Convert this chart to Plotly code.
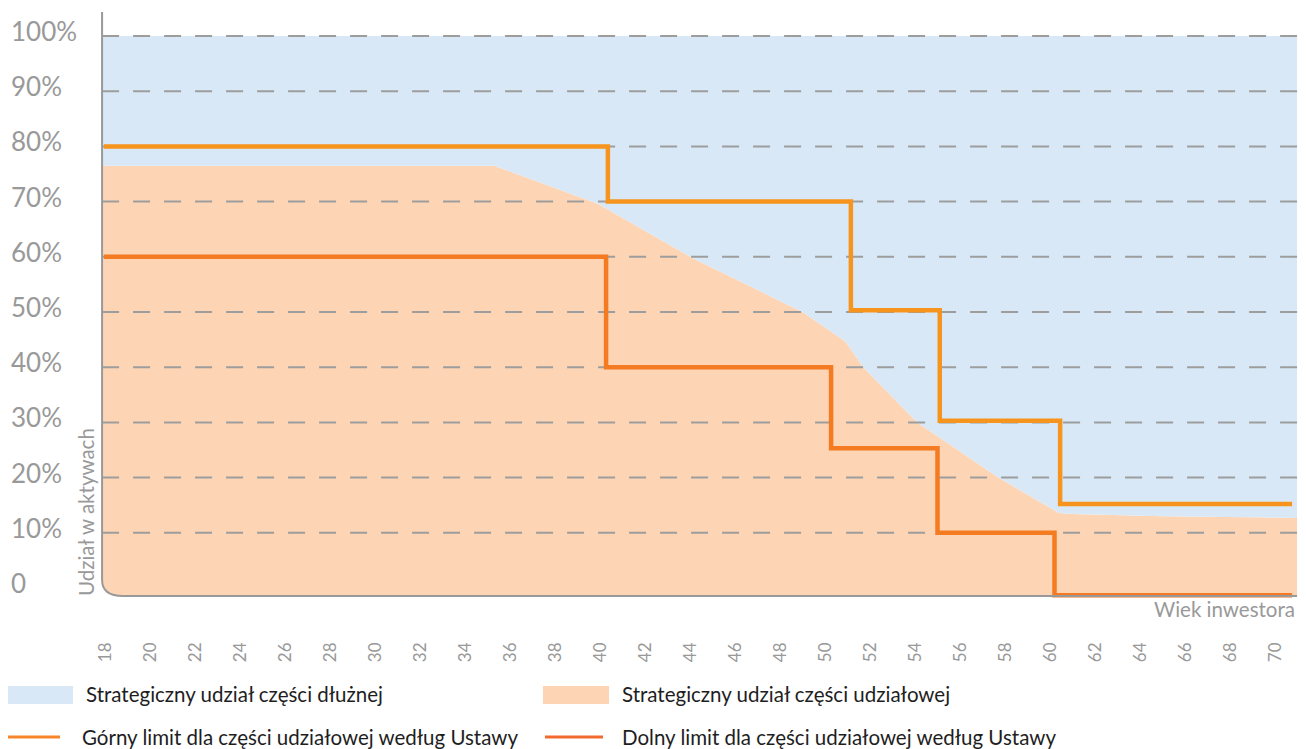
import plotly.graph_objects as go

# ---------------- data ----------------
CURVE_AGE = [17.87, 35.3, 39.9, 44.1, 49.0, 50.9, 51.7, 54.1, 57.7, 60.4, 61.0, 65.0, 70.98]
CURVE_VAL = [76.5, 76.5, 69.6, 59.8, 50.0, 44.7, 40.0, 30.0, 20.0, 13.6, 13.4, 13.0, 12.7]
DEBT_TOP = 100

UPPER_AGE = [17.95, 40.35, 51.15, 55.1, 60.45, 70.76]
UPPER_VAL = [80, 70, 50.3, 30.3, 15.2, 15.2]

LOWER_AGE = [17.95, 40.27, 50.27, 55.0, 60.2, 70.76]
LOWER_VAL = [60, 40, 25.3, 10, -1.3, -1.3]

X_TICKS = list(range(18, 71, 2))
Y_TICKS = [10, 20, 30, 40, 50, 60, 70, 80, 90, 100]
Y_TICK_LABELS = ["10%", "20%", "30%", "40%", "50%", "60%", "70%", "80%", "90%", "100%"]
Y_ZERO_LABEL = "0"

LEG_DEBT = "Strategiczny udział części dłużnej"
LEG_EQUITY = "Strategiczny udział części udziałowej"
LEG_UPPER = "Górny limit dla części udziałowej według Ustawy"
LEG_LOWER = "Dolny limit dla części udziałowej według Ustawy"
X_TITLE = "Wiek inwestora"
Y_TITLE = "Udział w aktywach"

# ---------------- style / layout ----------------
OFF = 8  # default page body margin
PAGE_W, PAGE_H = 1306, 749
W, H = PAGE_W - OFF, PAGE_H - OFF
# plot area in page pixels
P_LEFT, P_RIGHT, P_TOP, P_BOTTOM = 99, 1298, 10, 600
ML = P_LEFT - OFF
MR = W - (P_RIGHT - OFF)
MT = P_TOP - OFF
MB = H - (P_BOTTOM - OFF)
PW = P_RIGHT - P_LEFT
PH = P_BOTTOM - P_TOP

PX_PER_YEAR = 22.5
PX_PER_PCT = 5.52
ZERO_PX = 588  # page row of 0%
X0 = 18 - (105 - P_LEFT) / PX_PER_YEAR
X1 = 18 + (P_RIGHT - 105) / PX_PER_YEAR
Y1 = (ZERO_PX - P_TOP) / PX_PER_PCT
Y0 = (ZERO_PX - P_BOTTOM) / PX_PER_PCT
BASELINE = (ZERO_PX - 596) / PX_PER_PCT
AX_LEFT = CURVE_AGE[0]
AX_RIGHT = CURVE_AGE[-1]
AX_TOP = (ZERO_PX - 12) / PX_PER_PCT

BLUE = "#d9e8f6"
PEACH = "#fdd5b5"
UP_COL = "#f7941e"
LO_COL = "#f47b22"
GRID = "#9d9d9d"
AXC = "#999999"
FONT = "Lato"


def px(x):
    return (x - P_LEFT) / PW


def py(y):
    return (P_BOTTOM - y) / PH


fig = go.Figure()

# baseline for filling
fig.add_trace(go.Scatter(x=CURVE_AGE, y=[BASELINE] * len(CURVE_AGE), mode="lines",
                         line=dict(width=0), hoverinfo="skip", showlegend=False))
fig.add_trace(go.Scatter(x=CURVE_AGE, y=CURVE_VAL, mode="lines", fill="tonexty",
                         fillcolor=PEACH, line=dict(width=0), name=LEG_EQUITY, showlegend=False))
fig.add_trace(go.Scatter(x=CURVE_AGE, y=[DEBT_TOP] * len(CURVE_AGE), mode="lines", fill="tonexty",
                         fillcolor=BLUE, line=dict(width=0), name=LEG_DEBT, showlegend=False))

# dashed gridlines (drawn between fills and limit lines)
for v in Y_TICKS:
    fig.add_trace(go.Scatter(x=[AX_LEFT, AX_RIGHT], y=[v, v], mode="lines",
                             line=dict(color=GRID, width=2, dash="17px,14px"),
                             hoverinfo="skip", showlegend=False))

fig.add_trace(go.Scatter(x=UPPER_AGE, y=UPPER_VAL, mode="lines", line_shape="hv",
                         line=dict(color=UP_COL, width=4.5), name=LEG_UPPER, showlegend=False))
fig.add_trace(go.Scatter(x=LOWER_AGE, y=LOWER_VAL, mode="lines", line_shape="hv",
                         line=dict(color=LO_COL, width=4.5), name=LEG_LOWER, showlegend=False))

shapes = []
# white rounded corner mask + axis path
cx = AX_LEFT + 21 / PX_PER_YEAR
cy = BASELINE + 16 / PX_PER_PCT
shapes.append(dict(type="path", xref="x", yref="y", layer="above",
                   path=f"M {X0},{cy} L {AX_LEFT},{cy} Q {AX_LEFT},{BASELINE} {cx},{BASELINE} L {cx},{Y0} L {X0},{Y0} Z",
                   fillcolor="white", line=dict(width=0)))
shapes.append(dict(type="path", xref="x", yref="y", layer="above",
                   path=f"M {AX_LEFT},{AX_TOP} L {AX_LEFT},{cy} Q {AX_LEFT},{BASELINE} {cx},{BASELINE} L {AX_RIGHT},{BASELINE}",
                   line=dict(color=AXC, width=2)))

annotations = []
# y tick labels
for v, lab in zip([0] + Y_TICKS, [Y_ZERO_LABEL] + Y_TICK_LABELS):
    annotations.append(dict(x=px(9), xref="paper", y=v, yref="y", text=lab, showarrow=False,
                            xanchor="left", yanchor="middle", yshift=5,
                            font=dict(family=FONT, size=26, color=AXC)))
# axis titles
annotations.append(dict(x=px(1297), xref="paper", y=py(609), yref="paper", text=X_TITLE,
                        showarrow=False, xanchor="right", yanchor="middle",
                        font=dict(family=FONT, size=20.5, color=AXC)))
annotations.append(dict(x=px(86), xref="paper", y=py(512), yref="paper", text=Y_TITLE,
                        showarrow=False, xanchor="center", yanchor="middle", textangle=-90,
                        font=dict(family=FONT, size=20.5, color=AXC)))

# legend (manual)
LEG_FONT = dict(family=FONT, size=20.5, color="#1e1e1e")
shapes.append(dict(type="rect", xref="paper", yref="paper", x0=px(6), x1=px(73), y0=py(686), y1=py(704),
                   fillcolor=BLUE, line=dict(width=0)))
shapes.append(dict(type="rect", xref="paper", yref="paper", x0=px(543), x1=px(609), y0=py(686), y1=py(704),
                   fillcolor=PEACH, line=dict(width=0)))
shapes.append(dict(type="line", xref="paper", yref="paper", x0=px(6), x1=px(60), y0=py(737), y1=py(737),
                   line=dict(color="#f7862b", width=3)))
shapes.append(dict(type="line", xref="paper", yref="paper", x0=px(545), x1=px(603), y0=py(737), y1=py(737),
                   line=dict(color="#f26a30", width=3)))
for x, y, t in [(84, 694, LEG_DEBT), (620, 694, LEG_EQUITY), (80, 737, LEG_UPPER), (620, 737, LEG_LOWER)]:
    annotations.append(dict(x=px(x), xref="paper", y=py(y), yref="paper", text=t, showarrow=False,
                            xanchor="left", yanchor="middle", font=LEG_FONT))

fig.update_layout(
    width=W, height=H,
    margin=dict(l=ML, r=MR, t=MT, b=MB, pad=0),
    paper_bgcolor="white", plot_bgcolor="white",
    showlegend=False,
    shapes=shapes, annotations=annotations,
    xaxis=dict(range=[X0, X1], tickmode="array", tickvals=X_TICKS, ticktext=[str(t) for t in X_TICKS],
               tickangle=-90, showgrid=False, zeroline=False, showline=False, ticks="",
               ticklabelstandoff=38, tickfont=dict(family=FONT, size=17, color=AXC)),
    yaxis=dict(range=[Y0, Y1], showgrid=False, zeroline=False, showline=False,
               showticklabels=False, ticks=""),
)

fig.write_html("out.html")
